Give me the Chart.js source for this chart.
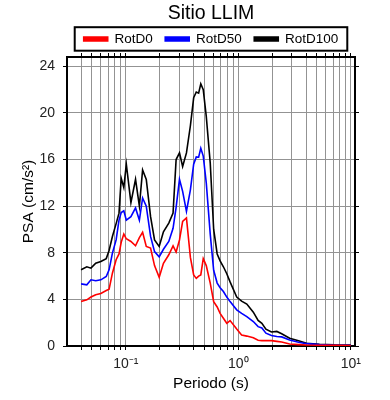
<!DOCTYPE html>
<html>
<head>
<meta charset="utf-8">
<script src="https://cdn.jsdelivr.net/npm/chart.js@4.4.1/dist/chart.umd.min.js"></script>
<style>
  html, body { margin: 0; padding: 0; background: #fff; }
</style>
</head>
<body>
<canvas id="psa" width="390" height="400"></canvas>
<script>
// Periods (s)
const periods = [0.040, 0.045, 0.049, 0.054, 0.060, 0.067, 0.071, 0.076, 0.082, 0.087,
  0.091, 0.096, 0.101, 0.111, 0.122, 0.132, 0.141, 0.152, 0.166, 0.180,
  0.198, 0.216, 0.241, 0.263, 0.280, 0.300, 0.320, 0.346, 0.375, 0.401,
  0.423, 0.444, 0.464, 0.488, 0.519, 0.563, 0.604, 0.649, 0.689, 0.737,
  0.790, 0.845, 0.968, 1.07, 1.19, 1.36, 1.50, 1.62, 1.76, 1.97,
  2.20, 2.43, 2.86, 3.43, 4.04, 5.26, 7.14, 10.0];

// PSA (cm/s2)
const rotD0 = [3.81, 3.96, 4.2, 4.4, 4.5, 4.76, 4.87, 6.25, 7.4, 7.9,
  8.9, 9.6, 9.2, 8.97, 8.6, 9.3, 9.75, 8.54, 8.4, 6.9,
  5.9, 7.1, 7.83, 8.6, 8.06, 9.1, 10.7, 11.0, 7.6, 6.1,
  5.8, 6.0, 6.1, 7.5, 6.9, 5.4, 3.8, 3.35, 2.8, 2.38,
  1.95, 2.18, 1.45, 0.95, 0.85, 0.7, 0.5, 0.46, 0.46, 0.46,
  0.4, 0.35, 0.17, 0.12, 0.09, 0.07, 0.05, 0.04];

const rotD50 = [5.33, 5.25, 5.68, 5.6, 5.68, 5.96, 6.54, 7.97, 9.1, 10.8,
  11.45, 11.6, 10.8, 11.1, 11.85, 10.8, 12.7, 12.0, 9.4, 8.1,
  7.65, 8.3, 8.97, 10.1, 11.9, 14.3, 13.27, 11.55, 13.4, 15.6,
  16.23, 16.2, 16.97, 16.3, 14.0, 9.6, 6.5, 5.4, 5.0, 4.67,
  4.2, 3.81, 3.1, 2.8, 2.52, 2.1, 1.66, 1.55, 1.1, 0.9,
  0.82, 0.78, 0.52, 0.32, 0.2, 0.12, 0.07, 0.05];

const rotD100 = [6.54, 6.8, 6.68, 7.1, 7.25, 7.5, 8.2, 9.4, 10.5, 11.4,
  14.4, 13.6, 15.6, 12.3, 14.3, 12.0, 15.1, 14.3, 11.1, 9.1,
  8.54, 9.8, 10.55, 11.4, 16.0, 16.57, 15.4, 16.57, 18.9, 21.3,
  21.8, 21.7, 22.5, 22.0, 19.7, 15.7, 10.0, 7.9, 7.3, 6.8,
  6.2, 5.5, 4.2, 3.85, 3.6, 2.9, 2.2, 1.95, 1.45, 1.2,
  1.25, 1.05, 0.66, 0.45, 0.23, 0.15, 0.1, 0.08];

const yTicks = [0, 4, 8, 12, 16, 20, 24];
const xTicks = [0.04, 0.05, 0.06, 0.07, 0.08, 0.09,
  0.1, 0.2, 0.3, 0.4, 0.5, 0.6, 0.7, 0.8, 0.9,
  1, 2, 3, 4, 5, 6, 7, 8, 9, 10];
const xLabels = { 0.1: '10\u207B\u00B9', 1: '10\u2070', 10: '10\u00B9' };

Chart.defaults.font.family = "'Liberation Sans', Arial, sans-serif";
Chart.defaults.color = '#000';

const gridColor = '#939393';
const frame = { display: true, color: '#000', width: 2 };

function setXTicks(scale) {
  scale.ticks = xTicks.map(v => ({ value: v }));
}
function setYTicks(scale) {
  scale.ticks = yTicks.map(v => ({ value: v }));
}

// box round the legend
const legendFrame = {
  id: 'legendFrame',
  afterDraw(chart) {
    const hb = chart.legend && chart.legend.legendHitBoxes;
    if (!hb || !hb.length) return;
    const last = hb[hb.length - 1];
    const ctx = chart.ctx;
    ctx.save();
    ctx.strokeStyle = '#000';
    ctx.lineWidth = 2;
    ctx.strokeRect(hb[0].left - 9, hb[0].top - 5, last.left + last.width - hb[0].left + 18, hb[0].height + 10);
    ctx.restore();
  }
};

function line(label, data, color) {
  return {
    label: label,
    data: data,
    borderColor: color,
    backgroundColor: color,
    borderWidth: 1.6,
    pointRadius: 0,
    tension: 0
  };
}

new Chart(document.getElementById('psa'), {
  type: 'line',
  data: {
    labels: periods,
    datasets: [
      line('RotD0', rotD0, '#ff0000'),
      line('RotD50', rotD50, '#0000ff'),
      line('RotD100', rotD100, '#000000')
    ]
  },
  options: {
    responsive: false,
    animation: false,
    devicePixelRatio: 1,
    layout: { padding: 0 },
    plugins: {
      title: {
        display: true,
        fullSize: false,
        text: 'Sitio LLIM',
        color: '#000',
        font: { size: 19.5, weight: 'normal' },
        padding: { top: 2.4, bottom: -6.1 }
      },
      legend: {
        fullSize: false,
        labels: { boxWidth: 24, boxHeight: 4, padding: 12.5, font: { size: 13.5 }, color: '#000' }
      },
      tooltip: { enabled: false }
    },
    scales: {
      x: {
        type: 'logarithmic',
        position: 'bottom',
        min: 0.03,
        max: 10.9,
        afterBuildTicks: setXTicks,
        afterFit: s => { s.height = 54; },
        grid: { color: gridColor, lineWidth: 1, tickLength: 4, tickColor: '#000' },
        border: frame,
        ticks: { autoSkip: false, maxRotation: 0, padding: 6, font: { size: 14 }, color: '#222',
          callback: v => xLabels[v] || '' },
        title: { display: true, text: 'Periodo (s)', font: { size: 15.5 }, padding: { top: 0, bottom: 6.5 } }
      },
      x2: {
        type: 'logarithmic',
        position: 'top',
        min: 0.03,
        max: 10.9,
        afterBuildTicks: setXTicks,
        afterFit: s => { s.height = 1.3; },
        grid: { drawOnChartArea: false, tickLength: 4, tickColor: '#000' },
        border: frame,
        ticks: { display: false }
      },
      y: {
        type: 'linear',
        position: 'left',
        min: 0,
        max: 24.8,
        afterBuildTicks: setYTicks,
        afterFit: s => { s.width = 67; },
        grid: { color: gridColor, lineWidth: 1, tickLength: 4, tickColor: '#000' },
        border: frame,
        ticks: { padding: 8, font: { size: 14 }, color: '#222' },
        title: { display: true, text: 'PSA (cm/s\u00B2)', font: { size: 15.5 }, padding: { top: 19.5, bottom: 0 } }
      },
      y2: {
        type: 'linear',
        position: 'right',
        min: 0,
        max: 24.8,
        afterBuildTicks: setYTicks,
        afterFit: s => { s.width = 35; },
        grid: { drawOnChartArea: false, tickLength: 4, tickColor: '#000' },
        border: frame,
        ticks: { display: false }
      }
    }
  },
  plugins: [legendFrame]
});
</script>
</body>
</html>
